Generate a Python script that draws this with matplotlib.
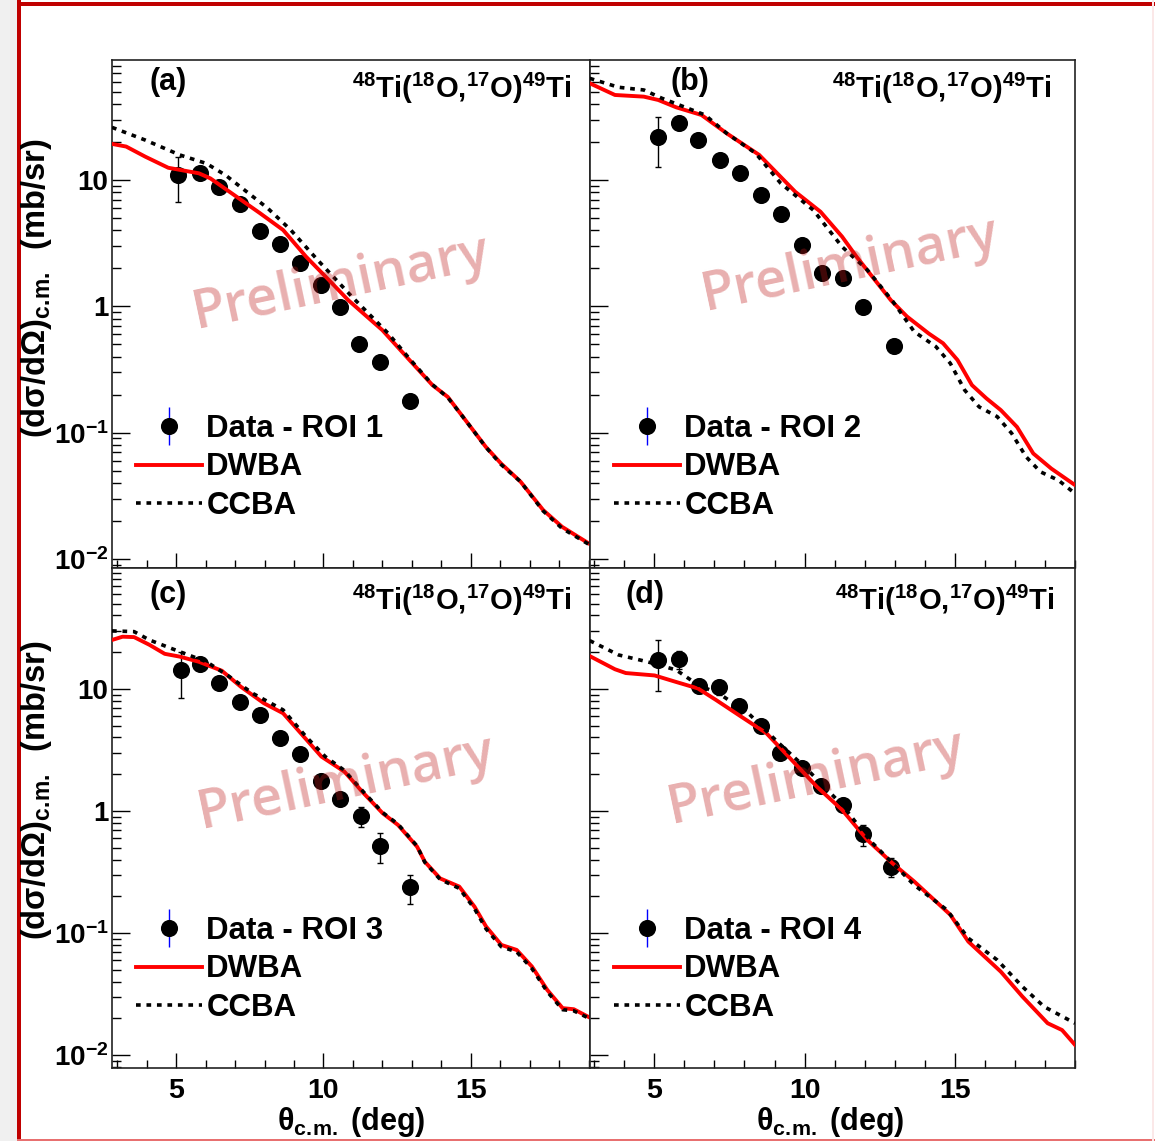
import matplotlib
matplotlib.use("Agg")
import matplotlib.pyplot as plt
from matplotlib.lines import Line2D
from matplotlib.patches import Rectangle
from matplotlib.ticker import FixedLocator, FixedFormatter, MultipleLocator, NullFormatter, LogLocator

plt.rcParams['font.family'] = ['Liberation Sans', 'DejaVu Sans']
plt.rcParams['font.weight'] = 'bold'
plt.rcParams['mathtext.fontset'] = 'custom'
plt.rcParams['mathtext.rm'] = 'Liberation Sans:bold'
plt.rcParams['mathtext.it'] = 'Liberation Sans:bold'
plt.rcParams['mathtext.bf'] = 'Liberation Sans:bold'
plt.rcParams['mathtext.sf'] = 'Liberation Sans'
plt.rcParams['mathtext.default'] = 'rm'

# ---------------- data ----------------
# panel (a) ROI 1
theta_a = [5.05, 5.80, 6.45, 7.15, 7.83, 8.53, 9.19, 9.90, 10.55, 11.20, 11.92, 12.93]
sig_a = [11.0, 11.3, 8.85, 6.46, 3.97, 3.11, 2.21, 1.48, 0.98, 0.503, 0.36, 0.179]
err_a = [4.3, 0.6, 0.5, 0.4, 0.25, 0.2, 0.15, 0.1, 0.07, 0.04, 0.03, 0.015]
dwba_x_a = [2.82, 3.3, 3.95, 4.73, 5.77, 6.16, 6.81, 7.85, 8.63, 9.41, 10.19, 10.84, 12.0, 12.92,
            13.7, 14.22, 14.73, 15.51, 16.03, 16.69, 17.46, 18.1, 19.05]
dwba_a = [19.3, 18.4, 15.3, 12.5, 11.3, 10.3, 8.07, 5.45, 4.02, 2.47, 1.61, 1.12, 0.648, 0.376,
          0.238, 0.192, 0.134, 0.0773, 0.057, 0.041, 0.0244, 0.018, 0.0131]
ccba_x_a = [2.82, 3.95, 5.12, 6.03, 6.68, 7.46, 8.11, 8.89, 9.8, 10.97, 12.2, 12.92, 13.7, 14.22,
            14.73, 15.51, 16.03, 16.69, 17.46, 18.1, 19.05]
ccba_a = [26.1, 20.7, 15.8, 13.5, 10.9, 7.85, 5.97, 4.02, 2.33, 1.19, 0.61, 0.385, 0.24, 0.19,
          0.134, 0.077, 0.056, 0.041, 0.024, 0.0175, 0.0129]

# panel (b) ROI 2
theta_b = [5.13, 5.83, 6.47, 7.17, 7.85, 8.55, 9.20, 9.90, 10.58, 11.28, 11.96, 12.96]
sig_b = [22.0, 28.5, 20.7, 14.4, 11.3, 7.6, 5.35, 3.05, 1.85, 1.69, 0.98, 0.488]
err_b = [9.3, 1.5, 1.2, 0.9, 0.7, 0.5, 0.35, 0.2, 0.13, 0.12, 0.07, 0.035]
dwba_x_b = [2.85, 3.69, 4.65, 5.13, 5.73, 6.57, 7.41, 8.49, 9.09, 9.69, 10.53, 11.25, 11.73, 12.87,
            13.41, 14.13, 14.61, 15.09, 15.57, 16.05, 16.53, 17.07, 17.61, 18.21, 19.0]
dwba_b = [58.3, 47.1, 45.7, 43.0, 37.6, 32.7, 23.4, 15.8, 11.3, 8.07, 5.61, 3.56, 2.47, 1.12,
          0.83, 0.61, 0.51, 0.376, 0.238, 0.187, 0.151, 0.111, 0.0685, 0.052, 0.0385]
ccba_x_b = [2.85, 3.81, 4.65, 5.25, 5.97, 6.69, 7.41, 8.37, 9.21, 10.29, 11.25, 12.09, 12.93, 13.65,
            14.37, 14.85, 15.33, 15.81, 16.41, 16.89, 17.37, 17.85, 18.45, 19.0]
ccba_b = [63.8, 54.2, 51.6, 44.4, 38.1, 32.7, 23.4, 16.3, 9.4, 5.78, 2.96, 1.94, 1.1, 0.63,
          0.48, 0.354, 0.217, 0.16, 0.134, 0.099, 0.0645, 0.049, 0.042, 0.033]

# panel (c) ROI 3
theta_c = [5.15, 5.80, 6.45, 7.16, 7.85, 8.54, 9.19, 9.90, 10.55, 11.26, 11.92, 12.94]
sig_c = [14.3, 16.0, 11.1, 7.87, 6.12, 3.95, 2.93, 1.76, 1.25, 0.915, 0.516, 0.236]
err_c = [5.9, 1.0, 0.7, 0.5, 0.4, 0.25, 0.2, 0.12, 0.1, 0.17, 0.145, 0.062]
dwba_x_c = [2.82, 3.18, 3.57, 4.09, 4.61, 5.12, 5.77, 6.55, 7.2, 7.98, 8.63, 9.28, 9.93, 10.71,
            11.36, 12.01, 12.53, 13.18, 13.44, 13.96, 14.61, 15.13, 15.52, 16.04, 16.56, 17.08,
            17.6, 18.12, 18.5, 19.05]
dwba_c = [25.2, 26.8, 26.6, 23.0, 19.4, 18.4, 16.7, 14.1, 10.4, 7.63, 6.32, 4.2, 2.79, 2.1,
          1.4, 0.958, 0.768, 0.509, 0.384, 0.28, 0.24, 0.164, 0.113, 0.0798, 0.0726, 0.053,
          0.0341, 0.0242, 0.0237, 0.0202]
ccba_x_c = [2.82, 3.57, 4.09, 5.12, 6.03, 6.81, 7.59, 8.63, 9.41, 10.06, 10.71, 11.36, 12.01, 12.53,
            13.18, 13.44, 13.96, 14.61, 15.13, 15.52, 16.04, 16.56, 17.08, 17.6, 18.12, 18.5, 19.05]
ccba_c = [29.9, 29.5, 25.2, 20.2, 16.7, 12.6, 9.22, 6.73, 4.06, 2.79, 2.15, 1.43, 0.97, 0.78,
          0.515, 0.38, 0.275, 0.232, 0.158, 0.108, 0.077, 0.07, 0.051, 0.033, 0.0235, 0.023, 0.0198]

# panel (d) ROI 4
theta_d = [5.13, 5.83, 6.49, 7.16, 7.83, 8.55, 9.17, 9.90, 10.55, 11.27, 11.94, 12.87]
sig_d = [17.3, 17.6, 10.6, 10.3, 7.26, 4.98, 3.0, 2.26, 1.6, 1.12, 0.644, 0.349]
err_d = [7.7, 2.9, 1.4, 1.4, 0.9, 0.5, 0.3, 0.2, 0.15, 0.1, 0.13, 0.06]
dwba_x_d = [2.85, 3.69, 4.05, 5.01, 5.73, 6.45, 7.05, 7.89, 8.73, 9.57, 10.41, 11.25, 12.09, 12.93,
            13.65, 14.85, 15.45, 16.53, 17.25, 18.09, 18.57, 19.0]
dwba_d = [18.6, 14.5, 13.5, 12.9, 11.4, 10.1, 8.13, 5.93, 4.34, 2.62, 1.58, 1.02, 0.578, 0.372,
          0.264, 0.141, 0.085, 0.0482, 0.0301, 0.0182, 0.016, 0.0121]
ccba_x_d = [2.85, 3.81, 4.77, 5.73, 6.45, 7.17, 8.13, 9.09, 10.05, 11.25, 12.21, 13.05, 13.65, 14.73,
            15.45, 16.41, 17.25, 17.97, 19.0]
ccba_d = [24.9, 19.0, 16.7, 14.3, 10.8, 9.1, 6.32, 3.7, 2.24, 1.12, 0.561, 0.349, 0.247, 0.155,
          0.0906, 0.0601, 0.0363, 0.0249, 0.0182]

panel_tags = ['(a)', '(b)', '(c)', '(d)']
roi_labels = ['Data - ROI 1', 'Data - ROI 2', 'Data - ROI 3', 'Data - ROI 4']
reaction = r'$^{48}$Ti($^{18}$O,$^{17}$O)$^{49}$Ti'
ytick_vals = [0.01, 0.1, 1, 10]
ytick_labels = [r'$10^{-2}$', r'$10^{-1}$', '1', '10']
xtick_vals = [5, 10, 15]
xtick_labels = ['5', '10', '15']

# ---------------- figure ----------------
W, H = 1155, 1141
fig = plt.figure(figsize=(W / 100, H / 100), dpi=100)
fig.patch.set_facecolor('white')


def fx(x):
    return x / W


def fy(y):
    return 1 - y / H


# outer frame decorations
fig.patches.append(Rectangle((0, 0), fx(17), 1, transform=fig.transFigure, facecolor='#f0f0f0',
                             edgecolor='none', zorder=-5))
fig.patches.append(Rectangle((fx(17), 0), fx(4), 1, transform=fig.transFigure, facecolor='#c00000',
                             edgecolor='none', zorder=-4))
fig.patches.append(Rectangle((fx(17), fy(6)), 1, fy(2) - fy(6), transform=fig.transFigure,
                             facecolor='#c00000', edgecolor='none', zorder=-4))
fig.patches.append(Rectangle((fx(17), 0), 1, fy(1139), transform=fig.transFigure,
                             facecolor='#e87070', edgecolor='none', zorder=-4))
fig.patches.append(Rectangle((fx(1152), 0), fx(2), 1, transform=fig.transFigure,
                             facecolor='#fbe8e8', edgecolor='none', zorder=-4))

rects = [(112, 590, 60, 568), (590, 1075, 60, 568), (112, 590, 568, 1068), (590, 1075, 568, 1068)]
xlims = [(2.82, 19.05), (2.86, 19.0), (2.82, 19.05), (2.86, 19.0)]
ylims = [(0.00849, 89.1), (0.00849, 89.1), (0.00782, 98.0), (0.00782, 98.0)]

datasets = [
    (theta_a, sig_a, err_a, dwba_x_a, dwba_a, ccba_x_a, ccba_a),
    (theta_b, sig_b, err_b, dwba_x_b, dwba_b, ccba_x_b, ccba_b),
    (theta_c, sig_c, err_c, dwba_x_c, dwba_c, ccba_x_c, ccba_c),
    (theta_d, sig_d, err_d, dwba_x_d, dwba_d, ccba_x_d, ccba_d),
]

tag_pos = [(168, 82), (690, 82), (168, 595), (645, 595)]
react_pos = [(572, 88), (1052, 88), (572, 600), (1055, 600)]
leg_pos = [(136, 414), (614, 414), (136, 916), (614, 916)]
prelim_pos = [(341, 283), (850, 265), (346, 783), (816, 778)]

dot_style = dict(color='black', lw=2.6, dashes=(1.3, 1.6), dash_capstyle='butt')
MS = 11.3

for i, (rect, ds) in enumerate(zip(rects, datasets)):
    l, r, t, b = rect
    ax = fig.add_axes([fx(l), fy(b), fx(r - l), fy(t) - fy(b)])
    th, sg, er, dx, dy, cx, cy = ds
    ax.set_yscale('log')
    ax.set_xlim(*xlims[i])
    ax.set_ylim(*ylims[i])

    ax.errorbar(th, sg, yerr=er, fmt='o', color='black', ms=MS, elinewidth=1, ecolor='black',
                capsize=2.5, capthick=1, zorder=3)
    ax.plot(dx, dy, color='#ff0000', lw=2.8, zorder=4)
    ax.plot(cx, cy, zorder=5, **dot_style)

    for sp in ax.spines.values():
        sp.set_linewidth(1.2)
        sp.set_color('#222222')

    ax.yaxis.set_major_locator(FixedLocator(ytick_vals))
    ax.yaxis.set_minor_locator(LogLocator(base=10, subs=range(2, 10), numticks=20))
    ax.yaxis.set_minor_formatter(NullFormatter())
    ax.xaxis.set_major_locator(FixedLocator(xtick_vals))
    ax.xaxis.set_minor_locator(MultipleLocator(1))
    ax.tick_params(axis='y', which='major', direction='in', length=13, width=1, pad=2.5,
                   labelsize=20, left=True, right=False)
    ax.tick_params(axis='y', which='minor', direction='in', length=6.5, width=1, left=True, right=False)
    ax.tick_params(axis='x', which='major', direction='in', length=11, width=1, pad=7,
                   labelsize=20.5, bottom=True, top=False)
    ax.tick_params(axis='x', which='minor', direction='in', length=6, width=1, bottom=True, top=False)

    if i in (0, 2):
        ax.yaxis.set_major_formatter(FixedFormatter(ytick_labels))
    else:
        ax.yaxis.set_major_formatter(NullFormatter())
    if i in (2, 3):
        ax.xaxis.set_major_formatter(FixedFormatter(xtick_labels))
    else:
        ax.xaxis.set_major_formatter(NullFormatter())
    for lab in ax.get_xticklabels() + ax.get_yticklabels():
        lab.set_fontweight('bold')

    # legend
    h_bar = Line2D([], [], color='blue', marker='|', markersize=28, markeredgewidth=1, linestyle='none')
    h_dot = Line2D([], [], color='black', marker='o', markersize=MS, linestyle='none')
    h_dw = Line2D([], [], color='#ff0000', lw=2.8)
    h_cc = Line2D([], [], **dot_style)
    lx, ly = leg_pos[i]
    ax.legend([(h_bar, h_dot), h_dw, h_cc], [roi_labels[i], 'DWBA', 'CCBA'],
              loc='upper left', bbox_to_anchor=(fx(lx), fy(ly)), bbox_transform=fig.transFigure,
              frameon=False, borderpad=0, borderaxespad=0, handlelength=2.1, handletextpad=0.15,
              labelspacing=0.27, prop={'family': 'Liberation Sans', 'weight': 'bold', 'size': 22.5})

    tx, ty = tag_pos[i]
    fig.text(fx(tx), fy(ty), panel_tags[i], ha='center', va='center', fontsize=22, fontweight='bold')
    rx, ry = react_pos[i]
    fig.text(fx(rx), fy(ry), reaction, ha='right', va='center', fontsize=21, fontweight='bold')

    px, py = prelim_pos[i]
    fig.text(fx(px), fy(py), 'Preliminary', ha='center', va='center', rotation=12,
             rotation_mode='anchor', fontsize=39, family='Open Sans', fontweight='semibold',
             color=(0.75, 0.1, 0.1), alpha=0.35, zorder=10)

ylab = r'(d$\mathsf{\sigma}$/d$\mathsf{\Omega}$)$_{\mathrm{c.\!m.}}$  (mb/sr)'
xlab = r'$\mathsf{\theta}_{\mathrm{c.\!m.}}$ (deg)'
for yy in (288, 790):
    fig.text(fx(37), fy(yy), ylab, rotation=90, ha='center', va='center', fontsize=23.5, fontweight='bold')
for xx in (351, 830):
    fig.text(fx(xx), fy(1130), xlab, ha='center', va='baseline', fontsize=22, fontweight='bold')

fig.savefig('out.png', dpi=100)
